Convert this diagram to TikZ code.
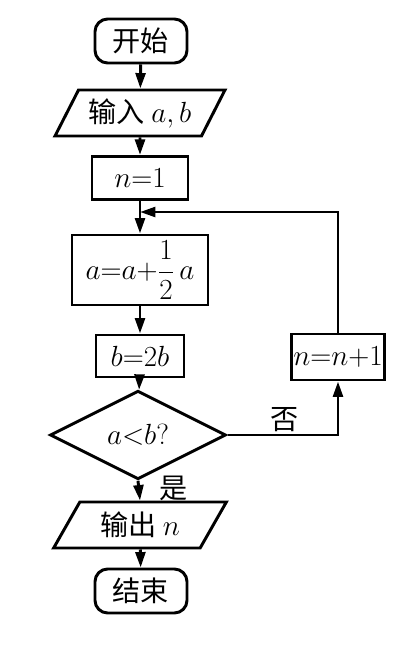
\documentclass[tikz,border=0pt]{standalone}
\usepackage{fontspec}
\newfontfamily\cjk{Noto Sans CJK SC}
\usetikzlibrary{arrows.meta,positioning,shapes.geometric}

\begin{document}
\begin{tikzpicture}[x=0.025cm, y=-0.025cm,
        every node/.style={font=\fontsize{20}{24}\selectfont, inner sep=1pt},
        term/.style={rectangle, rounded corners=9pt, draw, line width=2.1pt, minimum width=2.3cm, minimum height=1.1cm},
        proc/.style={rectangle, draw, line width=2.1pt},
        io/.style={trapezium, trapezium left angle=58, trapezium right angle=122, trapezium stretches=true, draw, line width=2.1pt, minimum height=1.15cm},
        test/.style={diamond, draw, line width=2.1pt, minimum width=4.4cm, minimum height=1.65cm},
        flow/.style={-{Triangle[length=11pt,width=7pt]}, line width=2.1pt},
        lbl/.style={font=\cjk\fontsize{20}{24}\selectfont}
    ]
        \useasboundingbox (0,0) rectangle (400,660);

        \node[term] (start) at (141,41) {\cjk 开始};
        \node[io, minimum width=4.25cm] (in) at (140,113) {\cjk 输入 \normalfont$a,b$};
        \node[proc, minimum width=2.4cm, minimum height=1.08cm] (init) at (140,178) {$n{=}1$};
        \node[proc, minimum width=3.4cm, minimum height=1.75cm] (upd) at (140,270) {$a{=}a{+}\displaystyle\frac{1}{2}\,a$};
        \node[proc, minimum width=2.2cm, minimum height=1.05cm] (dbl) at (140,356) {$b{=}2b$};
        \node[test] (cmp) at (138,435) {$a{<}b?$};
        \node[proc, minimum width=2.2cm, minimum height=1.15cm] (inc) at (338,357) {$n{=}n{+}1$};
        \node[io, minimum width=4.35cm] (out) at (140,525) {\cjk 输出 \normalfont$n$};
        \node[term] (stop) at (141,591) {\cjk 结束};
        \coordinate (back) at (140,212);

        \draw[flow] (start) -- (in);
        \draw[flow] (in) -- (init);
        \draw[flow] (init) -- (upd);
        \draw[flow] (upd) -- (dbl);
        \draw[flow] (dbl) -- (cmp);
        \draw[flow] (cmp.east) -| node[lbl, pos=0.26, above]{否} (inc.south);
        \draw[flow] (inc.north) |- (back);
        \draw[flow] (cmp.south) -- node[lbl, right=0.45cm, pos=0.4]{是} (out.north);
        \draw[flow] (out) -- (stop);
    \end{tikzpicture}
\end{document}
